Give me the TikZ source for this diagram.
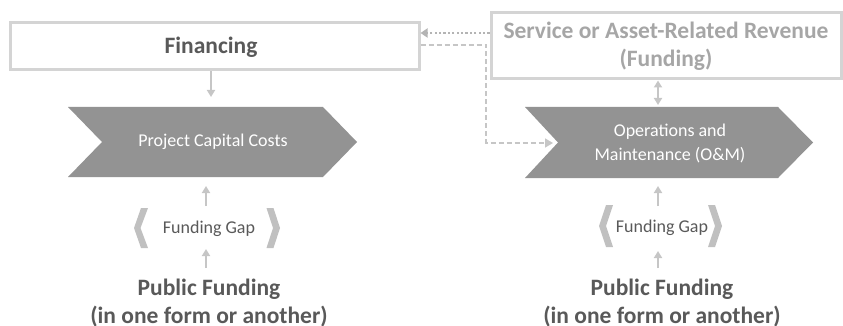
\documentclass[tikz,border=0pt]{standalone}
\usepackage{fontspec}
\setmainfont{Carlito}
\usetikzlibrary{arrows.meta}
\definecolor{boxline}{HTML}{D4D4D4}
\definecolor{darktext}{HTML}{595959}
\definecolor{lighttext}{HTML}{A6A6A6}
\definecolor{chevfill}{HTML}{939393}
\definecolor{arrowgray}{HTML}{C6C6C6}
\definecolor{dotgray}{HTML}{B4B4B4}
\definecolor{brack}{HTML}{C0C0C0}
\tikzset{
  boxstyle/.style={draw=boxline, line width=3pt, fill=white, inner sep=0pt},
  boldtext/.style={font=\fontsize{23.5}{28}\selectfont\bfseries, text=darktext, align=center},
  chevtext/.style={font=\fontsize{18}{24}\selectfont, text=white, align=center},
  gaptext/.style={font=\fontsize{18}{22}\selectfont, text=darktext},
  conn/.style={draw=arrowgray, line width=2pt, -{Triangle[width=8pt,length=7pt]}},
  dconn/.style={draw=arrowgray, line width=2pt, {Triangle[width=8pt,length=7pt]}-{Triangle[width=8pt,length=7pt]}},
  dotconn/.style={draw=dotgray, line width=2.2pt, dash pattern=on 2.2pt off 2.2pt, -{Triangle[width=9pt,length=7pt]}},
  dashconn/.style={draw=arrowgray, line width=1.6pt, dash pattern=on 5pt off 3pt, -{Triangle[width=9pt,length=8pt]}},
  chev/.style={fill=chevfill, draw=none},
  brk/.style={fill=brack, draw=none}
}
\begin{document}
\begin{tikzpicture}[x=1pt, y=-1pt]
\useasboundingbox (0,0) rectangle (843,326);
% boxes
\node[boxstyle, minimum width=409pt, minimum height=47pt] (fin) at (214.5,46.5) {};
\node[boldtext] (fintext) at (211,47) {Financing};
\node[boxstyle, minimum width=350pt, minimum height=66pt] (svc) at (666,46) {};
\node[boldtext, text=lighttext] (svctext) at (666,46) {Service or Asset-Related Revenue\\(Funding)};
% chevrons
\path[chev] (68,107) -- (323,107) -- (357,142) -- (323,177) -- (68,177) -- (102,142) -- cycle;
\node[chevtext] (pcc) at (213,142) {Project Capital Costs};
\path[chev] (525,107) -- (778,107) -- (813,142.5) -- (778,178) -- (525,178) -- (558,142.5) -- cycle;
\node[chevtext] (om) at (670,143) {Operations and\\Maintenance (O\&M)};
% funding gaps
\path[brk] (141,208) -- (148,208) -- (140.5,228) -- (148,248) -- (141,248) -- (134,228) -- cycle;
\path[brk] (266.5,208) -- (273.5,208) -- (280,228) -- (273.5,248) -- (266.5,248) -- (273,228) -- cycle;
\node[gaptext] (gapL) at (209,229) {Funding Gap};
\path[brk] (606,205) -- (613,205) -- (606,226) -- (613,247) -- (606,247) -- (599,226) -- cycle;
\path[brk] (708,205) -- (715,205) -- (722,226) -- (715,247) -- (708,247) -- (715,226) -- cycle;
\node[gaptext] (gapR) at (662,228) {Funding Gap};
% public funding
\node[boldtext] (pubL) at (209,303) {Public Funding\\(in one form or another)};
\node[boldtext] (pubR) at (662,303) {Public Funding\\(in one form or another)};
% coordinates
\coordinate (finbot) at (211,71.5);
\coordinate (pcctop) at (211,97);
\coordinate (pccbot1) at (206,206);
\coordinate (pccbot2) at (206,186);
\coordinate (gapL1) at (206,268);
\coordinate (gapL2) at (206,249);
\coordinate (ombot1) at (658,206);
\coordinate (ombot2) at (658,186);
\coordinate (gapR1) at (658,268);
\coordinate (gapR2) at (658,251);
\coordinate (svcbot) at (658,80.5);
\coordinate (omtop) at (658,105);
\coordinate (svcl) at (489.5,33);
\coordinate (finr) at (420.5,33);
\coordinate (finr2) at (420.5,45);
\coordinate (turn1) at (486,45);
\coordinate (turn2) at (486,143);
\coordinate (omleft) at (553,143);
% connectors
\draw[conn] (finbot) -- (pcctop);
\draw[conn] (pccbot1) -- (pccbot2);
\draw[conn] (gapL1) -- (gapL2);
\draw[conn] (ombot1) -- (ombot2);
\draw[conn] (gapR1) -- (gapR2);
\draw[dconn] (svcbot) -- (omtop);
\draw[dotconn] (svcl) -- (finr);
\draw[dashconn] (finr2) -- (turn1) -- (turn2) -- (omleft);
\end{tikzpicture}
\end{document}
